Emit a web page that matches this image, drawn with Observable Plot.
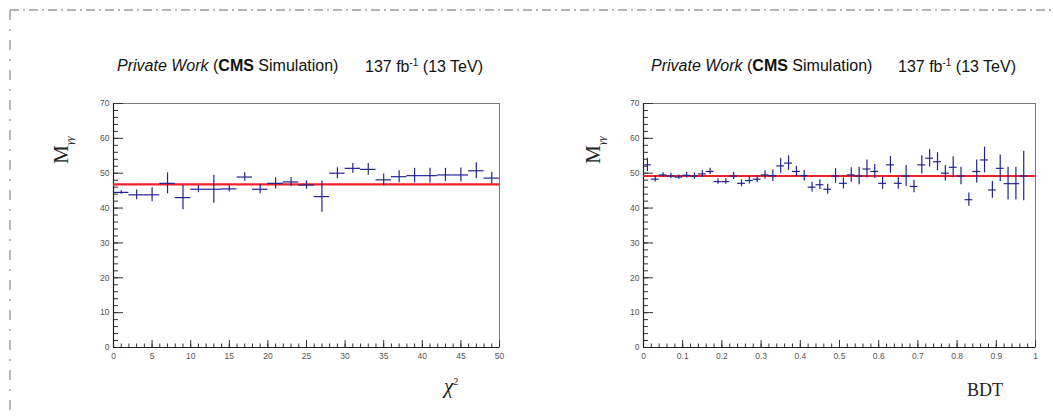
<!DOCTYPE html>
<html>
<head>
<meta charset="utf-8">
<script src="https://cdn.jsdelivr.net/npm/d3@7"></script>
<script src="https://cdn.jsdelivr.net/npm/@observablehq/plot@0.6"></script>
<style>
  html, body { margin: 0; padding: 0; background: #fff; }
  #root { position: relative; width: 1053px; height: 417px; overflow: hidden; background: #fff; }
  .abs { position: absolute; white-space: nowrap; }
  .title { font-family: "Liberation Sans", Arial, sans-serif; font-size: 16px; color: #111; }
  .axt { font-family: "Liberation Serif", "Times New Roman", serif; color: #222; }
</style>
</head>
<body>
<div id="root">
  <svg class="abs" style="left:0;top:0" width="1053" height="417">
    <line x1="10" y1="10" x2="1053" y2="10" stroke="#9a9a9a" stroke-width="1.4" stroke-dasharray="9,4,2,4"></line>
    <line x1="10" y1="10" x2="10" y2="417" stroke="#9a9a9a" stroke-width="1.4" stroke-dasharray="10,9,2,9"></line>
  </svg>
  <div id="p1" class="abs" style="left:0;top:0"></div>
  <div id="p2" class="abs" style="left:526px;top:0"></div>

  <div class="abs title" style="left:117px;top:57px"><i>Private Work</i> (<b>CMS</b> Simulation)</div>
  <div class="abs title" style="left:365px;top:57px">137 fb<sup style="font-size:10px">-1</sup> (13 TeV)</div>
  <div class="abs title" style="left:651px;top:57px"><i>Private Work</i> (<b>CMS</b> Simulation)</div>
  <div class="abs title" style="left:898px;top:57px">137 fb<sup style="font-size:10px">-1</sup> (13 TeV)</div>

  <div class="abs axt" style="left:62px;top:150px;transform:translate(-50%,-50%) rotate(-90deg);font-size:21px">M<sub style="font-size:11px;font-style:italic">γγ</sub></div>
  <div class="abs axt" style="left:594px;top:150px;transform:translate(-50%,-50%) rotate(-90deg);font-size:21px">M<sub style="font-size:11px;font-style:italic">γγ</sub></div>
  <div class="abs axt" style="left:451px;top:386px;transform:translate(-50%,-50%);font-size:21px"><i>χ</i><sup style="font-size:10px">2</sup></div>
  <div class="abs axt" style="left:985px;top:390px;transform:translate(-50%,-50%);font-size:18px">BDT</div>
</div>
<script>
// ---- data: chi2 panel ----
const chiBins = [1,3,5,7,9,11,13,15,17,19,21,23,25,27,29,31,33,35,37,39,41,43,45,47,49];
const chiVals = [44.5,43.8,43.8,47.1,43.0,45.4,45.4,45.5,48.9,45.4,47.1,47.5,46.6,43.3,50.0,51.4,51.1,48.1,49.0,49.3,49.3,49.5,49.5,50.7,48.6];
const chiErrs = [0.5,1.4,2.0,3.0,3.5,1.0,4.0,0.9,1.2,1.3,1.6,1.3,1.2,4.5,1.6,1.4,1.7,1.7,1.7,2.1,2.1,1.9,2.0,2.3,1.7];
const chiHalfWidth = 1;
const chiFit = 46.8;
const chiRange = [0, 50];
const chiMajorTicks = [0,5,10,15,20,25,30,35,40,45,50];

// ---- data: BDT panel ----
const bdtBins = [0.01,0.03,0.05,0.07,0.09,0.11,0.13,0.15,0.17,0.19,0.21,0.23,0.25,0.27,0.29,0.31,0.33,0.35,0.37,0.39,0.41,0.43,0.45,0.47,0.49,0.51,0.53,0.55,0.57,0.59,0.61,0.63,0.65,0.67,0.69,0.71,0.73,0.75,0.77,0.79,0.81,0.83,0.85,0.87,0.89,0.91,0.93,0.95,0.97];
const bdtVals = [52.4,48.3,49.5,49.2,48.9,49.4,49.2,49.8,50.5,47.6,47.6,49.2,47.1,47.9,48.3,49.5,49.3,52.1,52.9,50.5,49.3,46.0,46.7,45.4,49.2,47.1,49.5,49.2,51.2,50.5,47.1,52.4,47.1,49.2,46.2,52.4,54.3,53.3,50.0,51.7,49.2,42.4,50.5,53.8,45.2,51.4,47.0,47.0,49.2];
const bdtErrs = [1.9,0.8,0.6,0.8,0.6,0.8,0.9,1.0,0.9,0.8,0.8,1.0,1.0,1.0,1.0,1.2,1.7,2.1,2.1,1.5,1.5,1.4,1.4,1.4,2.1,1.6,2.1,2.5,2.6,2.0,1.7,2.4,1.7,3.0,1.8,2.6,2.5,2.6,2.2,3.0,2.5,1.9,3.3,3.7,2.4,3.8,4.7,4.7,7.1];
const bdtHalfWidth = 0.01;
const bdtFit = 49.2;
const bdtRange = [0, 1];
const bdtMajorTicks = [0,0.1,0.2,0.3,0.4,0.5,0.6,0.7,0.8,0.9,1];

// ---- shared y axis ----
const yRange = [0, 70];
const yMajorTicks = [0,10,20,30,40,50,60,70];

function panel({bins, vals, errs, half, fit, xRange, xMajor, xMinorStep, xFmt, width, marginLeft, marginRight}) {
  const height = 417, marginTop = 103, marginBottom = 70;
  const innerH = height - marginTop - marginBottom;
  const innerW = width - marginLeft - marginRight;
  const data = bins.map((b, i) => ({x: b, y: vals[i], e: errs[i]}));
  const xMinor = d3.range(Math.round((xRange[1] - xRange[0]) / xMinorStep) + 1).map(i => +(xRange[0] + i * xMinorStep).toFixed(6));
  const yMinor = d3.range(36).map(i => i * 2);
  const blue = "#23238e";
  return Plot.plot({
    width, height, marginLeft, marginRight, marginTop, marginBottom,
    x: {domain: xRange, axis: null},
    y: {domain: yRange, axis: null},
    style: {background: "transparent"},
    marks: [
      Plot.frame({stroke: "#7a7a7a", strokeWidth: 1}),
      // inward ticks (ROOT style)
      Plot.tickX(xMinor, {x: d => d, insetTop: innerH - 3.5, stroke: "#333", strokeWidth: 1}),
      Plot.tickX(xMajor, {x: d => d, insetTop: innerH - 7, stroke: "#333", strokeWidth: 1}),
      Plot.tickY(yMinor, {y: d => d, insetRight: innerW - 5, stroke: "#333", strokeWidth: 1}),
      Plot.tickY(yMajorTicks, {y: d => d, insetRight: innerW - 10, stroke: "#333", strokeWidth: 1}),
      Plot.ruleX([xRange[0]], {stroke: "#222", strokeWidth: 1.2}),
      Plot.ruleY([yRange[0]], {stroke: "#222", strokeWidth: 1.2}),
      Plot.axisX({ticks: xMajor, tickSize: 0, tickPadding: 5, tickFormat: xFmt, label: null, fontSize: 8.5, fill: "#555", fontFamily: "Liberation Sans, Arial, sans-serif"}),
      Plot.axisY({ticks: yMajorTicks, tickSize: 0, tickPadding: 4, label: null, fontSize: 8.5, fill: "#555", fontFamily: "Liberation Sans, Arial, sans-serif"}),
      // fit line
      Plot.ruleY([fit], {x1: xRange[0], x2: xRange[1], stroke: "#f0202a", strokeWidth: 2.2}),
      // error bars
      Plot.ruleY(data, {y: "y", x1: d => d.x - half, x2: d => d.x + half, stroke: blue, strokeWidth: 1.2}),
      Plot.ruleX(data, {x: "x", y1: d => d.y - d.e, y2: d => d.y + d.e, stroke: blue, strokeWidth: 1.2})
    ]
  });
}

document.getElementById("p1").append(panel({
  bins: chiBins, vals: chiVals, errs: chiErrs, half: chiHalfWidth, fit: chiFit,
  xRange: chiRange, xMajor: chiMajorTicks, xMinorStep: 1, xFmt: d => String(d),
  width: 526, marginLeft: 113, marginRight: 27
}));
document.getElementById("p2").append(panel({
  bins: bdtBins, vals: bdtVals, errs: bdtErrs, half: bdtHalfWidth, fit: bdtFit,
  xRange: bdtRange, xMajor: bdtMajorTicks, xMinorStep: 0.02, xFmt: d => String(d),
  width: 527, marginLeft: 117, marginRight: 18
}));
</script>
</body>
</html>
